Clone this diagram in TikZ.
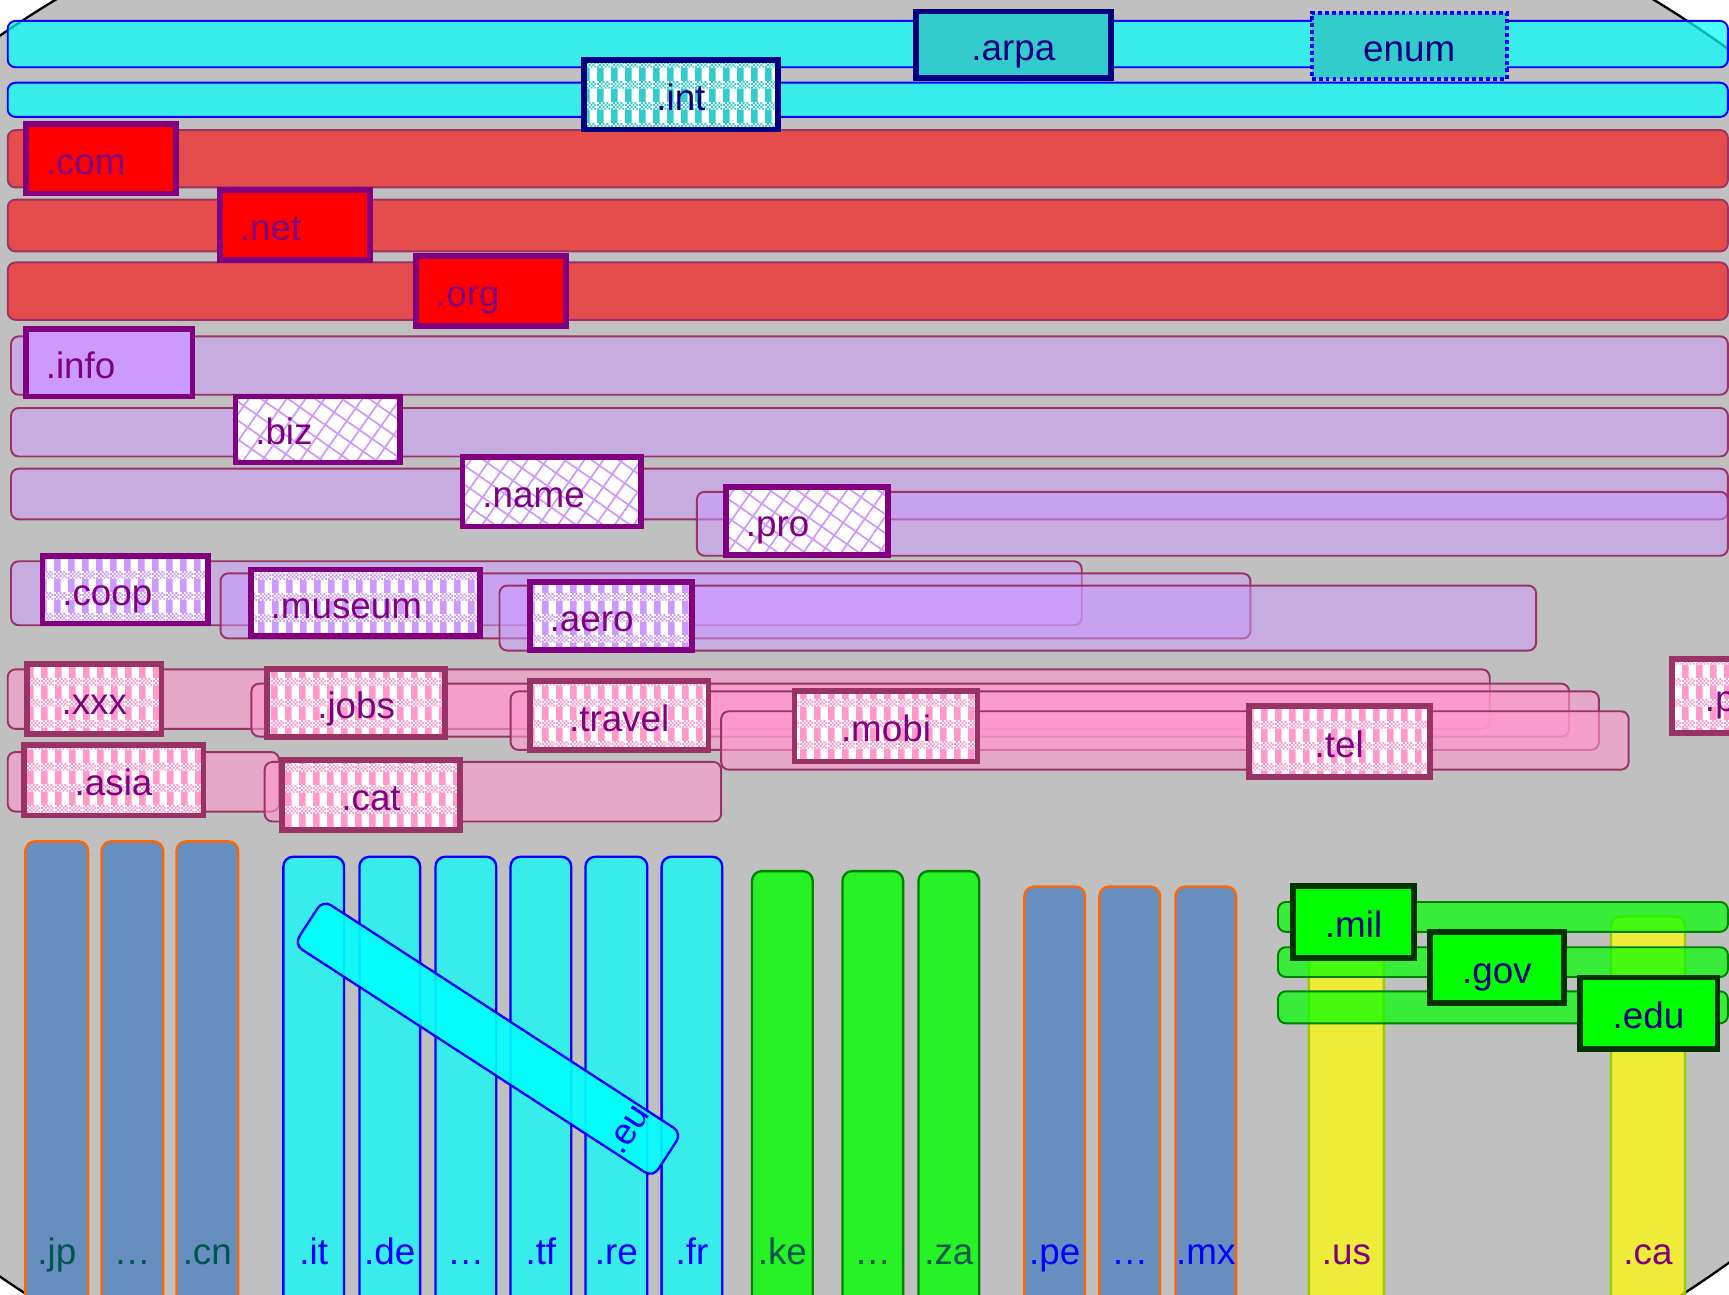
\documentclass[tikz,border=0pt]{standalone}
\usepackage{fontspec}
\setmainfont{Liberation Sans}
\usetikzlibrary{patterns,patterns.meta,calc}

\definecolor{bggrey}{RGB}{192,192,192}
\definecolor{cyanf}{RGB}{0,255,255}
\definecolor{yellowf}{RGB}{255,255,0}
\definecolor{greenf}{RGB}{0,255,0}
\definecolor{teal2}{RGB}{51,204,204}
\definecolor{navyb}{RGB}{0,0,128}
\definecolor{maroonb}{RGB}{153,51,102}
\definecolor{purp}{RGB}{128,0,128}
\definecolor{lav}{RGB}{204,153,255}
\definecolor{pinkf}{RGB}{255,153,204}
\definecolor{steel}{RGB}{102,143,192}
\definecolor{orangeb}{RGB}{255,102,0}
\definecolor{dkteal}{RGB}{0,85,80}
\definecolor{dkgreen}{RGB}{0,51,0}
\definecolor{grnline}{RGB}{0,128,0}
\definecolor{ylwline}{RGB}{153,204,0}

\pgfdeclarepatternformonly{gingham}{\pgfqpoint{0pt}{0pt}}{\pgfqpoint{7pt}{11pt}}{\pgfqpoint{7pt}{11pt}}{%
  \pgfpathrectangle{\pgfqpoint{0pt}{0pt}}{\pgfqpoint{3.5pt}{7pt}}%
  \pgfusepath{fill}%
  \foreach \k in {0,2,4,6}{%
    \pgfpathrectangle{\pgfqpoint{\k pt}{7pt}}{\pgfqpoint{1pt}{1pt}}%
    \pgfpathrectangle{\pgfqpoint{\k pt}{9pt}}{\pgfqpoint{1pt}{1pt}}%
    \pgfusepath{fill}}%
  \foreach \k in {1,3,5}{%
    \pgfpathrectangle{\pgfqpoint{\k pt}{8pt}}{\pgfqpoint{1pt}{1pt}}%
    \pgfpathrectangle{\pgfqpoint{\k pt}{10pt}}{\pgfqpoint{1pt}{1pt}}%
    \pgfusepath{fill}}%
}

\begin{document}
\begin{tikzpicture}[x=0.02cm, y=-0.02cm, font=\fontsize{19}{22}\selectfont,
    hbar/.style={line width=1pt, rounded corners=4pt},
    cyanbar/.style={hbar, draw=blue, fill=cyanf, fill opacity=0.7},
    redbar/.style={hbar, draw=maroonb, fill=red, fill opacity=0.6},
    lavbar/.style={hbar, draw=maroonb, fill=lav, fill opacity=0.5},
    pinkbar/.style={hbar, draw=maroonb, fill=pinkf, fill opacity=0.6},
    grnbar/.style={hbar, draw=grnline, fill=greenf, fill opacity=0.7},
    vbar/.style={line width=1.2pt, rounded corners=5pt},
    steelbar/.style={vbar, draw=orangeb, fill=steel},
    eubar/.style={vbar, draw=blue, fill=cyanf, fill opacity=0.7},
    grnvbar/.style={vbar, draw=grnline, fill=greenf, fill opacity=0.8},
    ylwbar/.style={vbar, draw=ylwline, fill=yellowf, fill opacity=0.7},
    vlbl/.style={anchor=base, inner sep=0pt},
    boxsize/.style 2 args={minimum width=#1*0.02cm, minimum height=#2*0.02cm},
    lefttext/.style={text width=#1, align=left},
    ging/.style={preaction={fill=white}, preaction={pattern=gingham, pattern color=#1}},
    hatch/.style={preaction={fill=white},
        preaction={pattern={Lines[angle=55,distance=8pt,line width=0.9pt]}, pattern color=lav},
        preaction={pattern={Lines[angle=-35,distance=8pt,line width=0.9pt]}, pattern color=lav}},
    tld/.style={line width=3pt, inner sep=0pt, text height=0.56cm, text depth=0pt},
    tealtld/.style={tld, fill=teal2, text=navyb},
    redtld/.style={tld, draw=purp, fill=red, text=purp},
    lavtld/.style={tld, draw=purp, text=purp},
    pinktld/.style={tld, draw=maroonb, text=purp, ging=pinkf},
    grntld/.style={tld, draw=dkgreen, fill=greenf, text=navyb}
]
\clip (0,0) rectangle (1568,1174);
\fill[white] (0,0) rectangle (1568,1174);
\filldraw[fill=bggrey, draw=black, line width=1.2pt] (775,595) ellipse [x radius=22.24cm, y radius=15.7cm];

\draw[cyanbar] (7,19) rectangle (1567,61);
\draw[cyanbar] (7,75) rectangle (1567,106);
\draw[redbar] (7,118) rectangle (1567,170);
\draw[redbar] (7,181) rectangle (1567,228);
\draw[redbar] (7,238) rectangle (1567,290);
\draw[lavbar] (10,305) rectangle (1567,358);
\draw[lavbar] (10,370) rectangle (1567,414);
\draw[lavbar] (10,425) rectangle (1567,471);
\draw[lavbar] (632,446) rectangle (1567,504);
\draw[lavbar] (10,509) rectangle (981,567);
\draw[lavbar] (200,520) rectangle (1134,579);
\draw[lavbar] (453,531) rectangle (1393,590);
\draw[pinkbar] (7,607) rectangle (1351,661);
\draw[pinkbar] (228,620) rectangle (1423,668);
\draw[pinkbar] (463,627) rectangle (1450,680);
\draw[pinkbar] (654,645) rectangle (1477,698);
\draw[pinkbar] (7,682) rectangle (253,736);
\draw[pinkbar] (240,691) rectangle (654,745);

\draw[steelbar] (23,763) rectangle (80,1195);
\draw[steelbar] (92,763) rectangle (148,1195);
\draw[steelbar] (160,763) rectangle (216,1195);
\draw[eubar] (257,777) rectangle (312,1195);
\draw[eubar] (326,777) rectangle (381,1195);
\draw[eubar] (395,777) rectangle (450,1195);
\draw[eubar] (463,777) rectangle (518,1195);
\draw[eubar] (531,777) rectangle (587,1195);
\draw[eubar] (600,777) rectangle (655,1195);
\draw[grnvbar] (682,790) rectangle (737,1195);
\draw[grnvbar] (764,790) rectangle (819,1195);
\draw[grnvbar] (833,790) rectangle (888,1195);
\draw[steelbar] (929,804) rectangle (984,1195);
\draw[steelbar] (997,804) rectangle (1052,1195);
\draw[steelbar] (1066,804) rectangle (1121,1195);
\draw[ylwbar] (1187,831) rectangle (1255,1195);
\draw[ylwbar] (1461,831) rectangle (1528,1195);

\node[vbar, draw=blue, fill=cyanf, fill opacity=0.9, rotate=57, boxsize={48}{388}] (eu) at (442.5,942) {};
\node[rotate=57, text=blue, inner sep=0pt] (eulbl) at ($(eu.south)!0.11!(eu.north)$) {.eu};

\node[vlbl, text=dkteal] (jp) at (51.5,1147) {.jp};
\node[vlbl, text=dkteal] (asiadots) at (120,1147) {…};
\node[vlbl, text=dkteal] (cn) at (188,1147) {.cn};
\node[vlbl, text=blue] (it) at (284.5,1147) {.it};
\node[vlbl, text=blue] (de) at (353.5,1147) {.de};
\node[vlbl, text=blue] (eudots) at (422.5,1147) {…};
\node[vlbl, text=blue] (tf) at (490.5,1147) {.tf};
\node[vlbl, text=blue] (re) at (559,1147) {.re};
\node[vlbl, text=blue] (fr) at (627.5,1147) {.fr};
\node[vlbl, text=dkteal] (ke) at (709.5,1147) {.ke};
\node[vlbl, text=dkteal] (afdots) at (791.5,1147) {…};
\node[vlbl, text=dkteal] (za) at (860.5,1147) {.za};
\node[vlbl, text=blue] (pe) at (956.5,1147) {.pe};
\node[vlbl, text=blue] (amdots) at (1024.5,1147) {…};
\node[vlbl, text=blue] (mx) at (1093.5,1147) {.mx};
\node[vlbl, text=purp] (us) at (1221,1147) {.us};
\node[vlbl, text=purp] (ca) at (1494.5,1147) {.ca};

\draw[grnbar] (1159,818) rectangle (1567,845);
\draw[grnbar] (1159,859) rectangle (1567,886);
\draw[grnbar] (1159,899) rectangle (1567,928);

\node[tealtld, draw=navyb, boxsize={177}{60}] (arpa) at (919,40.5) {.arpa};
\node[tealtld, draw=blue, line width=2pt, dash pattern=on 2pt off 1.6pt, boxsize={177}{60}] (enum) at (1278,41.5) {enum};
\node[tld, draw=navyb, text=navyb, ging=teal2, boxsize={176}{63}] (int) at (617.5,86) {.int};

\node[redtld, boxsize={136}{63}, lefttext=2.0cm] (com) at (91.5,144) {.com};
\node[redtld, boxsize={136}{63}, lefttext=2.0cm] (net) at (267.5,204) {.net};
\node[redtld, boxsize={136}{63}, lefttext=2.0cm] (org) at (445.5,264) {.org};

\node[lavtld, fill=lav, boxsize={151}{61}, lefttext=2.3cm] (info) at (99,329) {.info};
\node[lavtld, hatch, boxsize={149}{60}, lefttext=2.26cm] (biz) at (288,389.5) {.biz};
\node[lavtld, hatch, boxsize={162}{63}, lefttext=2.52cm] (name) at (500.5,446) {.name};
\node[lavtld, hatch, boxsize={147}{62}, lefttext=2.22cm] (pro) at (732,472.5) {.pro};
\node[lavtld, ging=lav, boxsize={150}{61}, lefttext=2.28cm] (coop) at (113.5,535) {.coop};
\node[lavtld, ging=lav, boxsize={208}{60}, lefttext=3.44cm] (museum) at (331.5,546.5) {.museum};
\node[lavtld, ging=lav, boxsize={147}{62}, lefttext=2.22cm] (aero) at (554,558.5) {.aero};

\node[pinktld, boxsize={122}{63}] (xxx) at (85.5,634) {.xxx};
\node[pinktld, boxsize={163}{64}] (asia) at (103,707.5) {.asia};
\node[pinktld, boxsize={161}{62}] (jobs) at (323,637.5) {.jobs};
\node[pinktld, boxsize={162}{63}] (cat) at (336.5,721) {.cat};
\node[pinktld, boxsize={162}{63}] (travel) at (561.5,649) {.travel};
\node[pinktld, boxsize={166}{64}] (mobi) at (803.5,658.5) {.mobi};
\node[pinktld, boxsize={164}{64}] (tel) at (1214.5,672.5) {.tel};
\node[pinktld, boxsize={160}{67}, lefttext=2.02cm] (post) at (1596.5,631) {.p};

\node[grntld, boxsize={110}{65}] (mil) at (1227.5,836) {.mil};
\node[grntld, boxsize={122}{64}] (gov) at (1357.5,877.5) {.gov};
\node[grntld, boxsize={125}{65}] (edu) at (1495,919) {.edu};
\end{tikzpicture}
\end{document}
